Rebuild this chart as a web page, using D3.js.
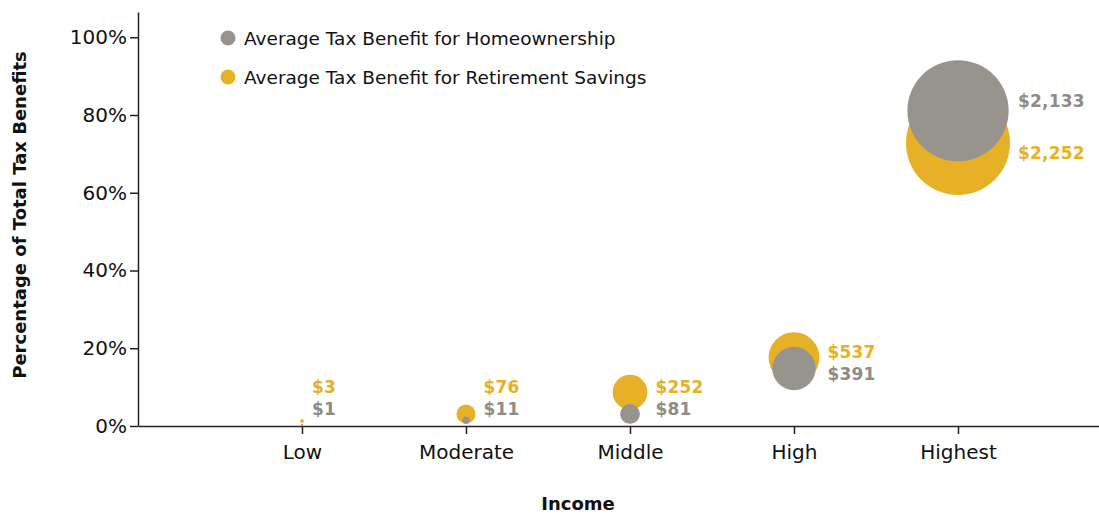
<!DOCTYPE html>
<html>
<head>
<meta charset="utf-8">
<script src="https://cdn.jsdelivr.net/npm/d3@7"></script>
<style>
  body { margin: 0; background: #fff; }
  svg { display: block; font-family: "DejaVu Sans", sans-serif; }
</style>
</head>
<body>
<script>
var width = 1099,
    height = 514;

var categories = ["Low", "Moderate", "Middle", "High", "Highest"];
var homeShare = [0.3, 1.5, 3.1, 14.8, 81.1];
var retireShare = [1.3, 3.1, 8.7, 17.6, 72.8];
// average benefit in dollars (bubble size)
var homeDollars = [1, 11, 81, 391, 2133];
var retireDollars = [3, 76, 252, 537, 2252];
var yTicks = [0, 20, 40, 60, 80, 100];

var grey = "#97938d",
    gold = "#e6b126";

var svg = d3.select("body").append("svg")
    .attr("width", width)
    .attr("height", height);

var x = d3.scalePoint()
    .domain(categories)
    .range([138, 1122])
    .padding(1);

var y = d3.scaleLinear()
    .domain([0, 106.5])
    .range([426, 12]);

var r = d3.scaleSqrt()
    .domain([0, 2252])
    .range([0, 52]);

// axes
var yAxis = svg.append("g")
    .attr("transform", "translate(138,0)")
    .call(d3.axisLeft(y).tickValues(yTicks).tickSize(8).tickSizeOuter(0)
        .tickFormat(function(d) { return d + "%"; }));

var xAxis = svg.append("g")
    .attr("transform", "translate(0,426)")
    .call(d3.axisBottom(x).tickSize(8).tickSizeOuter(0));

[yAxis, xAxis].forEach(function(a) {
  a.select(".domain").attr("stroke", "#222").attr("stroke-width", 1.5);
  a.selectAll(".tick line").attr("stroke", "#222").attr("stroke-width", 1.5);
  a.selectAll(".tick text")
    .attr("fill", "#111")
    .style("font-family", "DejaVu Sans")
    .style("font-size", "20px");
});
yAxis.selectAll(".tick text").attr("x", -11);
xAxis.selectAll(".tick text").attr("y", 19);

// axis titles
svg.append("text")
    .attr("x", 578)
    .attr("y", 510)
    .attr("text-anchor", "middle")
    .style("font-weight", "bold")
    .style("font-size", "18px")
    .attr("fill", "#111")
    .text("Income");

svg.append("text")
    .attr("transform", "translate(26,215) rotate(-90)")
    .attr("text-anchor", "middle")
    .style("font-weight", "bold")
    .style("font-size", "18px")
    .attr("fill", "#111")
    .text("Percentage of Total Tax Benefits");

// bubbles: gold first, grey drawn over it
var rows = categories.map(function(c, i) {
  return {
    cat: c,
    home: homeShare[i], retire: retireShare[i],
    homeD: homeDollars[i], retireD: retireDollars[i]
  };
});

var g = svg.append("g");

g.selectAll("circle.retire")
  .data(rows)
  .enter()
  .append("circle")
  .attr("class", "retire")
  .attr("cx", function(d) { return x(d.cat); })
  .attr("cy", function(d) { return y(d.retire); })
  .attr("r", function(d) { return r(d.retireD); })
  .attr("fill", gold);

g.selectAll("circle.home")
  .data(rows)
  .enter()
  .append("circle")
  .attr("class", "home")
  .attr("cx", function(d) { return x(d.cat); })
  .attr("cy", function(d) { return y(d.home); })
  .attr("r", function(d) { return r(d.homeD); })
  .attr("fill", grey);

// dollar labels to the right of each pair
var fmt = d3.format("$,");
rows.forEach(function(d) {
  var cyH = y(d.home), cyR = y(d.retire);
  var mid = (cyH + cyR) / 2, dist = Math.abs(cyH - cyR);
  var gap = dist > 30 ? dist * 1.6 : 22;
  var top = mid - gap / 2, bot = mid + gap / 2;
  if (bot > 409) { top -= bot - 409; bot = 409; }
  var lx = x(d.cat) + Math.max(r(d.homeD), r(d.retireD)) + 8;
  var homeTop = cyH < cyR;
  var labels = [
    {t: fmt(d.homeD), y: homeTop ? top : bot, c: "#8f8b85"},
    {t: fmt(d.retireD), y: homeTop ? bot : top, c: gold}
  ];
  labels.forEach(function(l) {
    svg.append("text")
      .attr("x", lx)
      .attr("y", l.y)
      .attr("dy", "0.36em")
      .style("font-weight", "bold")
      .style("font-size", "17px")
      .style("letter-spacing", "0.2px")
      .attr("fill", l.c)
      .text(l.t);
  });
});

// legend
var legend = [
  {name: "Average Tax Benefit for Homeownership", color: grey},
  {name: "Average Tax Benefit for Retirement Savings", color: gold}
];
var lg = svg.selectAll("g.legend")
  .data(legend)
  .enter()
  .append("g")
  .attr("class", "legend")
  .attr("transform", function(d, i) { return "translate(228," + (38 + i * 39) + ")"; });

lg.append("circle").attr("r", 7.5).attr("fill", function(d) { return d.color; });
lg.append("text")
  .attr("x", 16)
  .attr("dy", "0.36em")
  .style("font-size", "18.5px")
  .attr("fill", "#111")
  .text(function(d) { return d.name; });
</script>
</body>
</html>
